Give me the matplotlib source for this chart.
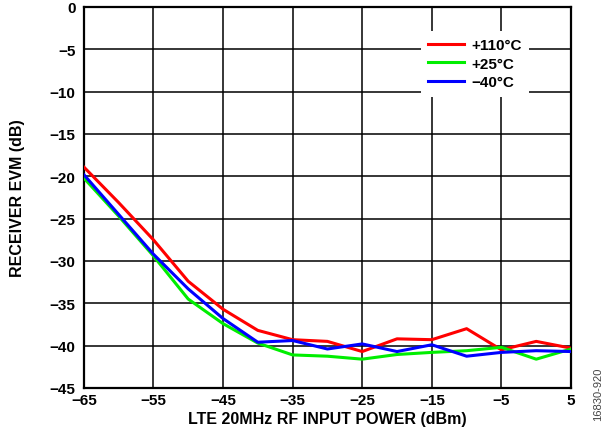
import matplotlib as mpl
mpl.use('Agg')
import matplotlib.pyplot as plt

# input power (dBm)
power = [-65, -60, -55, -50, -45, -40, -35, -30, -25, -20, -15, -10, -5, 0, 5]

# receiver EVM (dB) per temperature
evm_110 = [-18.9, -23.1, -27.5, -32.4, -35.7, -38.2, -39.3, -39.5, -40.7, -39.2, -39.3, -38.0, -40.5, -39.5, -40.3]
evm_25 = [-20.2, -24.7, -29.4, -34.5, -37.4, -39.7, -41.1, -41.25, -41.6, -41.05, -40.8, -40.6, -40.2, -41.6, -40.4]
evm_m40 = [-19.8, -24.5, -29.2, -33.3, -36.8, -39.6, -39.4, -40.4, -39.8, -40.7, -39.9, -41.25, -40.8, -40.6, -40.7]

labels = ['+110°C', '+25°C', '\u221240°C']
xticks = [-65, -55, -45, -35, -25, -15, -5, 5]
yticks = [0, -5, -10, -15, -20, -25, -30, -35, -40, -45]

plt.rcParams['font.family'] = ['Liberation Sans', 'DejaVu Sans']
plt.rcParams['font.weight'] = 'bold'
plt.rcParams['font.size'] = 11

fig = plt.figure(figsize=(6.16, 4.39), dpi=100)
ax = fig.add_axes([0.136, 0.114, 0.791, 0.868])

ax.plot(power, evm_110, color='#ff0000', lw=2.2, label=labels[0], zorder=3)
ax.plot(power, evm_25, color='#00ee00', lw=2.2, label=labels[1], zorder=3)
ax.plot(power, evm_m40, color='#0000ff', lw=2.2, label=labels[2], zorder=3)

ax.set_xlim(-65, 5)
ax.set_ylim(-45, 0)
ax.set_xticks(xticks)
ax.set_yticks(yticks)
ax.grid(True, color='black', lw=1.1)
ax.tick_params(axis='y', length=0, pad=6, labelsize=11)
ax.tick_params(axis='x', length=0, pad=3.5, labelsize=11)
for s in ax.spines.values():
    s.set_linewidth(1.6)

ax.set_xlabel('LTE 20MHz RF INPUT POWER (dBm)', fontweight='bold', fontsize=11.5, labelpad=3)
ax.set_ylabel('RECEIVER EVM (dB)', fontweight='bold', fontsize=11.5)
ax.yaxis.set_label_coords(-0.12, 0.5)

leg = ax.legend(loc='upper right', bbox_to_anchor=(0.93, 0.958), frameon=True,
                fancybox=False, edgecolor='white', framealpha=1.0,
                handlelength=2.3, handletextpad=0.5, labelspacing=0.3,
                borderpad=0.5, fontsize=11)
leg.get_frame().set_linewidth(0)

fig.text(0.971, 0.04, '16830-920', rotation=90, fontsize=8, fontweight='normal',
         color='#444444', ha='center', va='bottom')

fig.savefig('out.png', dpi=100)
